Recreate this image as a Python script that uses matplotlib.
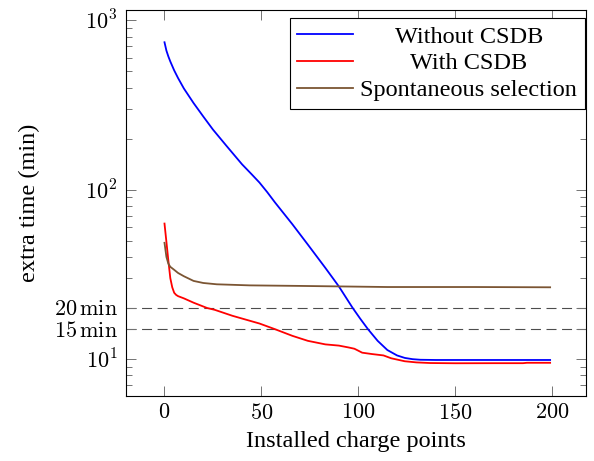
import numpy as np
import matplotlib
matplotlib.use('Agg')
import matplotlib.pyplot as plt
from matplotlib.ticker import FixedLocator, FixedFormatter, LogLocator, NullFormatter

plt.rcParams['font.family'] = ['Liberation Serif', 'DejaVu Serif']
plt.rcParams['mathtext.fontset'] = 'cm'

# values
blue_x = [0, 1, 2, 3, 5, 7, 10, 15, 20, 25, 32, 40, 45, 49, 53, 57, 66, 74, 83, 90,
          97, 101, 105, 110, 115, 120, 124, 128, 132, 140, 160, 180, 199]
blue_y = [740, 660, 610, 570, 505, 455, 395, 324, 270, 226, 181, 141, 123, 110, 96.6,
          84, 62.4, 47.3, 34.5, 26.8, 20.1, 17.3, 15.0, 12.8, 11.3, 10.5, 10.15, 9.98,
          9.9, 9.87, 9.87, 9.87, 9.87]

red_x = [0, 1, 2, 3, 4, 5, 6, 7, 10, 15, 22, 26, 35, 49, 57, 66, 74, 83, 90, 95, 98,
         100, 102, 107, 113, 117, 124, 130, 137, 150, 170, 185, 187, 199]
red_y = [63, 49, 38, 30, 26.5, 24.6, 23.9, 23.5, 22.8, 21.5, 20.0, 19.5, 18.0, 16.2,
         15.0, 13.7, 12.8, 12.2, 12.0, 11.7, 11.5, 11.2, 10.9, 10.7, 10.5, 10.1, 9.7,
         9.55, 9.47, 9.44, 9.45, 9.45, 9.5, 9.5]

brown_x = [0, 1, 2, 3, 5, 7, 10, 15, 20, 27, 44, 70, 115, 160, 199]
brown_y = [48.5, 40, 36.5, 35, 33.6, 32.2, 30.8, 28.9, 28.1, 27.6, 27.2, 27.0, 26.6,
           26.6, 26.5]

limit_levels = [20, 15]
ytick_vals = [10, 15, 20, 100, 1000]
ytick_labels = [r'$10^{1}$', r'$15\,\mathrm{min}$', r'$20\,\mathrm{min}$',
                r'$10^{2}$', r'$10^{3}$']
xtick_vals = [0, 50, 100, 150, 200]

fig = plt.figure(figsize=(5.94, 4.61), dpi=100)
ax = fig.add_axes([0.212, 0.141, 0.7745, 0.837])

ax.plot(blue_x, blue_y, color='#0000ff', lw=1.3, label='Without CSDB')
ax.plot(red_x, red_y, color='#ff0000', lw=1.3, label='With CSDB')
ax.plot(brown_x, brown_y, color='#7b5533', lw=1.3, label='Spontaneous selection')
for lvl in limit_levels:
    ax.axhline(lvl, color='0.3', lw=0.8, linestyle=(0, (9, 5)), zorder=1)

ax.set_yscale('log')
ax.set_xlim(-19.9, 217.5)
ax.set_ylim(6.05, 1145)

ax.yaxis.set_major_locator(FixedLocator(ytick_vals))
ax.yaxis.set_major_formatter(FixedFormatter(ytick_labels))
ax.yaxis.set_minor_locator(LogLocator(base=10, subs=np.arange(2, 10)))
ax.yaxis.set_minor_formatter(NullFormatter())
ax.xaxis.set_major_locator(FixedLocator(xtick_vals))
ax.xaxis.set_major_formatter(FixedFormatter(['$%d$' % v for v in xtick_vals]))

ax.tick_params(which='both', direction='in', top=True, right=True,
               color='0.45', labelsize=16, width=0.7)
ax.tick_params(which='major', length=7, pad=6)
ax.tick_params(which='minor', length=4.5)
for s in ax.spines.values():
    s.set_linewidth(0.8)

ax.set_xlabel('Installed charge points', fontsize=17.5, labelpad=5)
ax.set_ylabel('extra time (min)', fontsize=17.5, labelpad=10)

leg = ax.legend(loc='upper right', bbox_to_anchor=(0.997, 0.979), borderaxespad=0,
                fontsize=17.5, fancybox=False, framealpha=1, edgecolor='black',
                handlelength=2.3, handletextpad=0.3, labelspacing=0.2,
                borderpad=0.3)
leg.get_frame().set_linewidth(0.8)

# center the legend entries like pgfplots does
fig.canvas.draw()
texts = leg.get_texts()
widths = [t.get_window_extent().width for t in texts]
maxw = max(widths)
for t, w in zip(texts, widths):
    t.set_x((maxw - w) / 2)

fig.savefig('out.png', dpi=100)
